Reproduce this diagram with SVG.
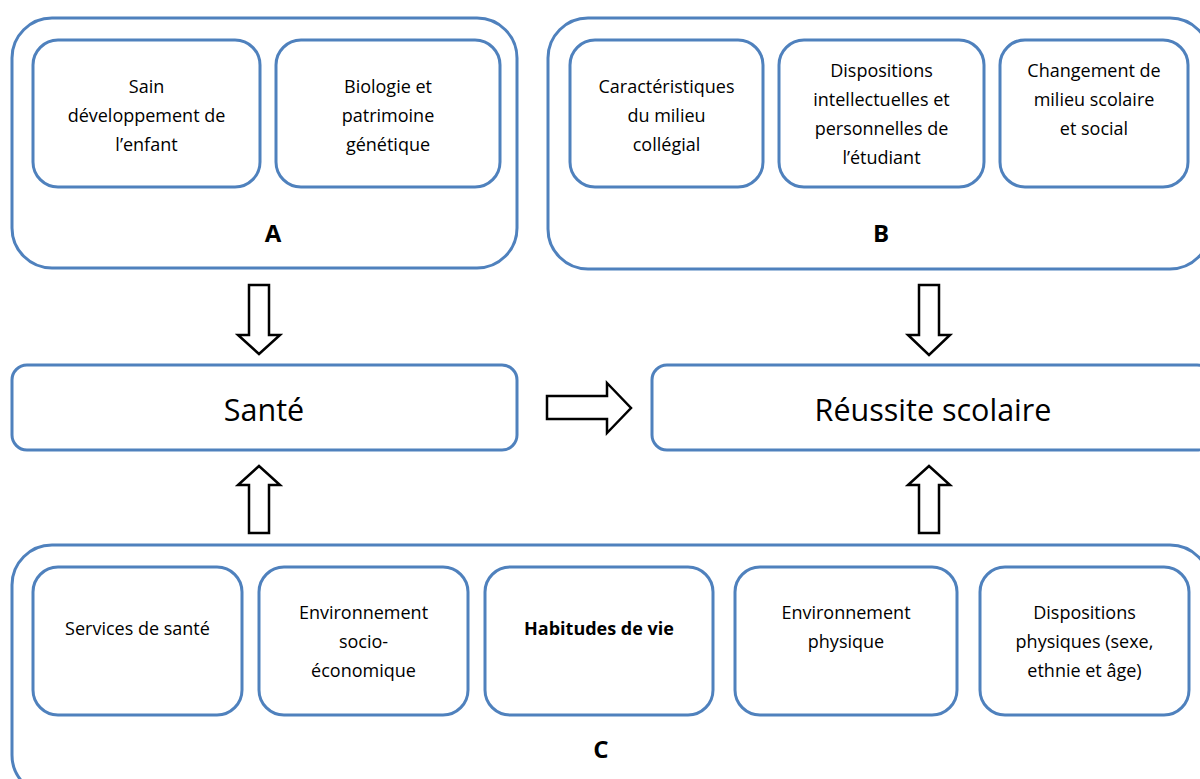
<svg xmlns="http://www.w3.org/2000/svg" width="1200" height="779" viewBox="0 0 1200 779">
<style>
.box{fill:#fff;stroke:#4F81BD;stroke-width:3}
.t{font-family:"Open Sans","Liberation Sans",sans-serif;font-size:18px;fill:#000;text-anchor:middle}
.b{font-weight:bold}
.lbl{font-family:"Open Sans","Liberation Sans",sans-serif;font-size:24px;font-weight:bold;fill:#000;text-anchor:middle}
.big{font-family:"Open Sans","Liberation Sans",sans-serif;font-size:30.5px;fill:#000;text-anchor:middle}
.arr{fill:#fff;stroke:#000;stroke-width:2.5;stroke-linejoin:miter}
</style>
<rect width="1200" height="779" fill="#fff"/>
<g id="groupA">
<rect class="box" x="12" y="18" width="505" height="250" rx="40"/>
<text class="lbl" x="273" y="242">A</text>
</g>
<g id="a1">
<rect class="box" x="33" y="40" width="227" height="147" rx="25"/>
<text class="t" x="146.5" y="93">Sain</text>
<text class="t" x="146.5" y="122">développement de</text>
<text class="t" x="146.5" y="151">l’enfant</text>
</g>
<g id="a2">
<rect class="box" x="276" y="40" width="224" height="147" rx="25"/>
<text class="t" x="388" y="93">Biologie et</text>
<text class="t" x="388" y="122">patrimoine</text>
<text class="t" x="388" y="151">génétique</text>
</g>
<g id="groupB">
<rect class="box" x="548" y="18" width="662" height="251" rx="40"/>
<text class="lbl" x="881" y="242">B</text>
</g>
<g id="b1">
<rect class="box" x="570" y="40" width="193" height="147" rx="25"/>
<text class="t" x="666.5" y="93">Caractéristiques</text>
<text class="t" x="666.5" y="122">du milieu</text>
<text class="t" x="666.5" y="151">collégial</text>
</g>
<g id="b2">
<rect class="box" x="779" y="40" width="205" height="147" rx="25"/>
<text class="t" x="881.5" y="77">Dispositions</text>
<text class="t" x="881.5" y="106">intellectuelles et</text>
<text class="t" x="881.5" y="135">personnelles de</text>
<text class="t" x="881.5" y="164">l’étudiant</text>
</g>
<g id="b3">
<rect class="box" x="1000" y="40" width="188" height="147" rx="25"/>
<text class="t" x="1094" y="77">Changement de</text>
<text class="t" x="1094" y="106">milieu scolaire</text>
<text class="t" x="1094" y="135">et social</text>
</g>
<g id="sante">
<rect class="box" x="12" y="365" width="505" height="85" rx="15"/>
<text class="big" x="264" y="421">Santé</text>
</g>
<g id="reussite">
<rect class="box" x="652" y="365" width="560" height="85" rx="15"/>
<text class="big" x="933" y="421">Réussite scolaire</text>
</g>
<g id="groupC">
<rect class="box" x="12" y="545" width="1198" height="250" rx="40"/>
<text class="lbl" x="601" y="758">C</text>
</g>
<g id="c1">
<rect class="box" x="33" y="567" width="209" height="148" rx="25"/>
<text class="t" x="137.5" y="635">Services de santé</text>
</g>
<g id="c2">
<rect class="box" x="259" y="567" width="209" height="148" rx="25"/>
<text class="t" x="363.5" y="619">Environnement</text>
<text class="t" x="363.5" y="648">socio-</text>
<text class="t" x="363.5" y="677">économique</text>
</g>
<g id="c3">
<rect class="box" x="485" y="567" width="228" height="148" rx="25"/>
<text class="t b" x="599" y="635">Habitudes de vie</text>
</g>
<g id="c4">
<rect class="box" x="735" y="567" width="222" height="148" rx="25"/>
<text class="t" x="846" y="619">Environnement</text>
<text class="t" x="846" y="648">physique</text>
</g>
<g id="c5">
<rect class="box" x="980" y="567" width="209" height="148" rx="25"/>
<text class="t" x="1084.5" y="619">Dispositions</text>
<text class="t" x="1084.5" y="648">physiques (sexe,</text>
<text class="t" x="1084.5" y="677">ethnie et âge)</text>
</g>
<g id="connectors">
<polygon class="arr" points="249,285 269,285 269,335 280,335 259,354 238,335 249,335"/>
<polygon class="arr" points="919,285 939,285 939,335 950,335 929,355 908,335 919,335"/>
<polygon class="arr" points="259,466 280,485 269,485 269,533 249,533 249,485 238,485"/>
<polygon class="arr" points="929,466 950,485 939,485 939,533 919,533 919,485 908,485"/>
<polygon class="arr" points="547,396 607,396 607,383 631,408 607,433 607,419 547,419"/>
</g>
</svg>
